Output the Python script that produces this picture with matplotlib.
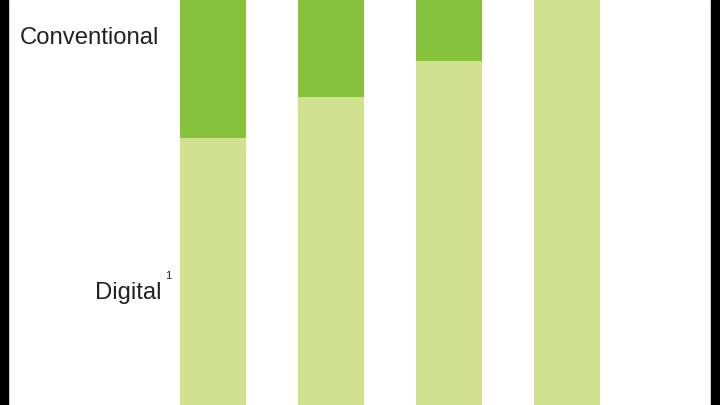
import matplotlib
matplotlib.use("Agg")
import matplotlib.pyplot as plt
from matplotlib.patches import Rectangle

# share of each bar (percent)
bars = ["A", "B", "C", "D"]
digital = [66, 76, 85, 100]
conventional = [34, 24, 15, 0]

light_green = "#d0e190"
dark_green = "#86c13c"

plt.rcParams['font.family'] = ['Liberation Sans', 'DejaVu Sans']

fig = plt.figure(figsize=(7.2, 4.05), dpi=100)
ax = fig.add_axes([0, 0, 1, 1])

x = list(range(len(bars)))
ax.bar(x, digital, width=0.56, color=light_green, linewidth=0)
ax.bar(x, conventional, width=0.56, bottom=digital, color=dark_green, linewidth=0)

ax.set_xlim(-1.805, 4.297)
ax.set_ylim(0, 100)
ax.axis("off")

# series labels on the left
ax.text(-0.46, 90.6, "Conventional", ha="right", va="center", fontsize=17.2, color="#222222")
ax.text(-0.44, 27.6, "Digital", ha="right", va="center", fontsize=17.2, color="#222222")
ax.text(-0.41, 31.8, "1", ha="left", va="center", fontsize=8, color="#222222")

# dark frame edges at both sides
fig.add_artist(Rectangle((0, 0), 8 / 720, 1, transform=fig.transFigure, color="black"))
fig.add_artist(Rectangle((711 / 720, 0), 9 / 720, 1, transform=fig.transFigure, color="black"))

fig.savefig("out.png", dpi=100)
